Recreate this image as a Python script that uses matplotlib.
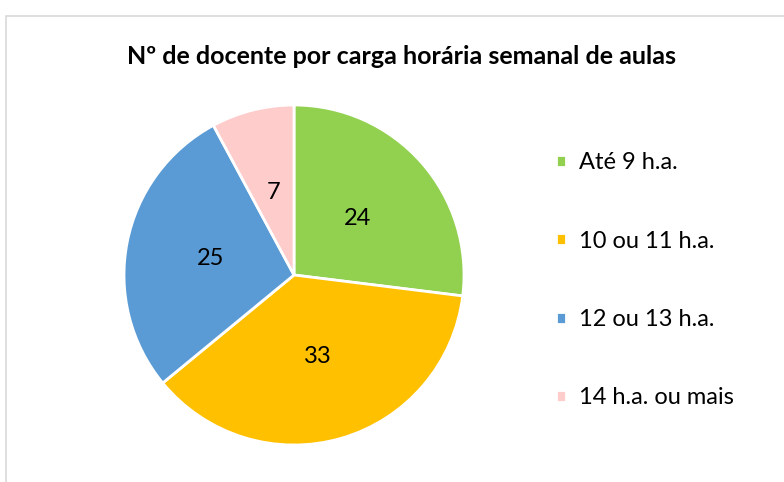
import matplotlib.pyplot as plt
from matplotlib.patches import Rectangle

plt.rcParams['font.family'] = ['Lato', 'DejaVu Sans']

# Data
categories = ['Até 9 h.a.', '10 ou 11 h.a.', '12 ou 13 h.a.', '14 h.a. ou mais']
values = [24, 33, 25, 7]
colors = ['#92D050', '#FFC000', '#5B9BD5', '#FFCCCC']

W, H = 784, 482
fig = plt.figure(figsize=(W / 100, H / 100), dpi=100)

# chart frame (cut off on right and bottom like the screenshot)
fig.patches.append(Rectangle((6 / W, -0.05), 1.1, (H - 16) / H + 0.05,
                             transform=fig.transFigure, fill=False,
                             edgecolor='#D9D9D9', linewidth=1.2))

# pie axes: centre (294, 275) px, radius 170 px
cx, cy, r = 294, 275, 170
ax = fig.add_axes([(cx - r) / W, (H - cy - r) / H, 2 * r / W, 2 * r / H])
wedges, texts = ax.pie(values, colors=colors, startangle=90, counterclock=False,
                       labels=[str(v) for v in values], labeldistance=0.5,
                       wedgeprops=dict(edgecolor='white', linewidth=2),
                       textprops=dict(fontsize=17, color='black', ha='center', va='center'))
ax.set_xlim(-1, 1)
ax.set_ylim(-1, 1)
ax.set_aspect('equal')
ax.axis('off')

fig.text(401 / W, 1 - 57 / H, 'Nº de docente por carga horária semanal de aulas',
         ha='center', va='center', fontsize=18, fontweight='bold')

leg = fig.legend(wedges, categories, loc='upper left',
                 bbox_to_anchor=(535 / W, 1 - 131 / H), frameon=False,
                 fontsize=17, handlelength=0.4, handleheight=0.4,
                 handletextpad=0.55, labelspacing=2.43)

fig.savefig('out.png', dpi=100, facecolor='white')
